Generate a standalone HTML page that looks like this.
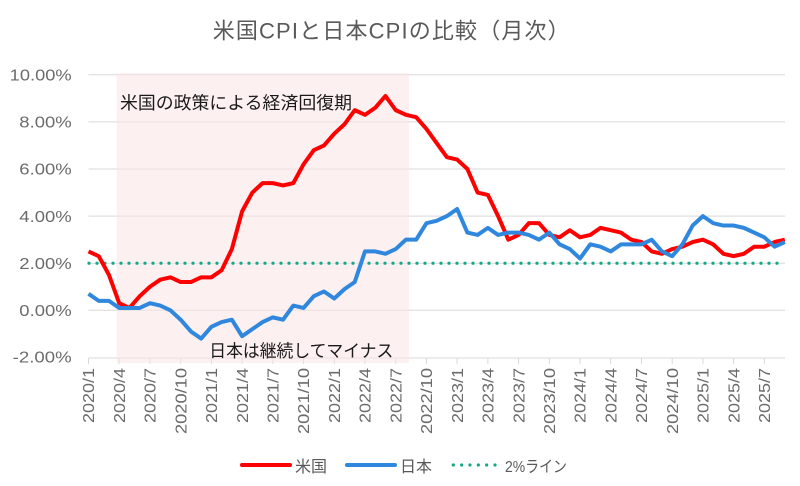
<!DOCTYPE html>
<html><head><meta charset="utf-8"><style>
html,body{margin:0;padding:0;background:#fff;}
svg{display:block;}
</style></head><body>
<svg width="800" height="486" viewBox="0 0 800 486" xmlns="http://www.w3.org/2000/svg">
<rect width="800" height="486" fill="#fff"/>
<!-- title -->
<text x="212.7" y="38.5" font-family="Liberation Sans, Noto Sans CJK JP, sans-serif" font-size="22" fill="#595959" textLength="357" lengthAdjust="spacing">米国CPIと日本CPIの比較（月次）</text>
<!-- gridlines -->
<g stroke="#d9d9d9" stroke-width="1">
<line x1="88.5" y1="74.8" x2="785" y2="74.8"/>
<line x1="88.5" y1="121.9" x2="785" y2="121.9"/>
<line x1="88.5" y1="169.0" x2="785" y2="169.0"/>
<line x1="88.5" y1="216.1" x2="785" y2="216.1"/>
<line x1="88.5" y1="263.2" x2="785" y2="263.2"/>
<line x1="88.5" y1="310.3" x2="785" y2="310.3"/>
<line x1="88.5" y1="358" x2="785" y2="358"/>
</g>
<!-- ticks -->
<g stroke="#d9d9d9" stroke-width="1">
<line x1="88.5" y1="358" x2="88.5" y2="364"/>
<line x1="119.2" y1="358" x2="119.2" y2="364"/>
<line x1="149.9" y1="358" x2="149.9" y2="364"/>
<line x1="180.7" y1="358" x2="180.7" y2="364"/>
<line x1="211.4" y1="358" x2="211.4" y2="364"/>
<line x1="242.1" y1="358" x2="242.1" y2="364"/>
<line x1="272.8" y1="358" x2="272.8" y2="364"/>
<line x1="303.5" y1="358" x2="303.5" y2="364"/>
<line x1="334.3" y1="358" x2="334.3" y2="364"/>
<line x1="365.0" y1="358" x2="365.0" y2="364"/>
<line x1="395.7" y1="358" x2="395.7" y2="364"/>
<line x1="426.4" y1="358" x2="426.4" y2="364"/>
<line x1="457.1" y1="358" x2="457.1" y2="364"/>
<line x1="487.9" y1="358" x2="487.9" y2="364"/>
<line x1="518.6" y1="358" x2="518.6" y2="364"/>
<line x1="549.3" y1="358" x2="549.3" y2="364"/>
<line x1="580.0" y1="358" x2="580.0" y2="364"/>
<line x1="610.7" y1="358" x2="610.7" y2="364"/>
<line x1="641.5" y1="358" x2="641.5" y2="364"/>
<line x1="672.2" y1="358" x2="672.2" y2="364"/>
<line x1="702.9" y1="358" x2="702.9" y2="364"/>
<line x1="733.6" y1="358" x2="733.6" y2="364"/>
<line x1="764.3" y1="358" x2="764.3" y2="364"/>
</g>
<!-- shading -->
<rect x="116.7" y="73.3" width="292.3" height="289.5" fill="#fbe3e6" fill-opacity="0.55"/>
<!-- 2% line -->
<line x1="89" y1="263.2" x2="785" y2="263.2" stroke="#13a887" stroke-width="3.2" stroke-linecap="round" stroke-dasharray="0 8"/>
<!-- series -->
<g transform="translate(88.5,310.3) scale(10.24,-23.55)" fill="none" stroke-linejoin="round">
<polyline vector-effect="non-scaling-stroke" stroke="#ff0000" stroke-width="4" points="0,2.5 1,2.3 2,1.5 3,0.3 4,0.1 5,0.6 6,1.0 7,1.3 8,1.4 9,1.2 10,1.2 11,1.4 12,1.4 13,1.7 14,2.6 15,4.2 16,5.0 17,5.4 18,5.4 19,5.3 20,5.4 21,6.2 22,6.8 23,7.0 24,7.5 25,7.9 26,8.5 27,8.3 28,8.6 29,9.1 30,8.5 31,8.3 32,8.2 33,7.7 34,7.1 35,6.5 36,6.4 37,6.0 38,5.0 39,4.9 40,4.0 41,3.0 42,3.2 43,3.7 44,3.7 45,3.2 46,3.1 47,3.4 48,3.1 49,3.2 50,3.5 51,3.4 52,3.3 53,3.0 54,2.9 55,2.5 56,2.4 57,2.6 58,2.7 59,2.9 60,3.0 61,2.8 62,2.4 63,2.3 64,2.4 65,2.7 66,2.7 67,2.9 68,3.0"/>
<polyline vector-effect="non-scaling-stroke" stroke="#2f87de" stroke-width="4" points="0,0.7 1,0.4 2,0.4 3,0.1 4,0.1 5,0.1 6,0.3 7,0.2 8,0.0 9,-0.4 10,-0.9 11,-1.2 12,-0.7 13,-0.5 14,-0.4 15,-1.1 16,-0.8 17,-0.5 18,-0.3 19,-0.4 20,0.2 21,0.1 22,0.6 23,0.8 24,0.5 25,0.9 26,1.2 27,2.5 28,2.5 29,2.4 30,2.6 31,3.0 32,3.0 33,3.7 34,3.8 35,4.0 36,4.3 37,3.3 38,3.2 39,3.5 40,3.2 41,3.3 42,3.3 43,3.2 44,3.0 45,3.3 46,2.8 47,2.6 48,2.2 49,2.8 50,2.7 51,2.5 52,2.8 53,2.8 54,2.8 55,3.0 56,2.5 57,2.3 58,2.8 59,3.6 60,4.0 61,3.7 62,3.6 63,3.6 64,3.5 65,3.3 66,3.1 67,2.7 68,2.9"/>
</g>
<!-- annotations -->
<text x="120" y="109" font-family="Liberation Sans, Noto Sans CJK JP, sans-serif" font-size="17.5" fill="#1a1a1a" textLength="232" lengthAdjust="spacingAndGlyphs">米国の政策による経済回復期</text>
<text x="209.3" y="357" font-family="Liberation Sans, Noto Sans CJK JP, sans-serif" font-size="17.5" fill="#1a1a1a" textLength="184" lengthAdjust="spacingAndGlyphs">日本は継続してマイナス</text>
<!-- y labels -->
<g font-family="Liberation Sans, sans-serif" font-size="16" fill="#6b6b6b" text-anchor="end">
<text x="71.7" y="80.5" textLength="62" lengthAdjust="spacingAndGlyphs">10.00%</text>
<text x="71.7" y="127.6" textLength="52.4" lengthAdjust="spacingAndGlyphs">8.00%</text>
<text x="71.7" y="174.7" textLength="52.4" lengthAdjust="spacingAndGlyphs">6.00%</text>
<text x="71.7" y="221.8" textLength="52.4" lengthAdjust="spacingAndGlyphs">4.00%</text>
<text x="71.7" y="268.9" textLength="52.4" lengthAdjust="spacingAndGlyphs">2.00%</text>
<text x="71.7" y="316.0" textLength="52.4" lengthAdjust="spacingAndGlyphs">0.00%</text>
<text x="71.7" y="362.4" textLength="59" lengthAdjust="spacingAndGlyphs">-2.00%</text>
</g>
<!-- x labels -->
<g font-family="Liberation Sans, sans-serif" font-size="16" fill="#6b6b6b" text-anchor="end">
<text transform="translate(94.2,368) rotate(-90)" textLength="55" lengthAdjust="spacingAndGlyphs">2020/1</text>
<text transform="translate(124.9,368) rotate(-90)" textLength="55" lengthAdjust="spacingAndGlyphs">2020/4</text>
<text transform="translate(155.6,368) rotate(-90)" textLength="55" lengthAdjust="spacingAndGlyphs">2020/7</text>
<text transform="translate(186.4,368) rotate(-90)" textLength="66" lengthAdjust="spacingAndGlyphs">2020/10</text>
<text transform="translate(217.1,368) rotate(-90)" textLength="55" lengthAdjust="spacingAndGlyphs">2021/1</text>
<text transform="translate(247.8,368) rotate(-90)" textLength="55" lengthAdjust="spacingAndGlyphs">2021/4</text>
<text transform="translate(278.5,368) rotate(-90)" textLength="55" lengthAdjust="spacingAndGlyphs">2021/7</text>
<text transform="translate(309.2,368) rotate(-90)" textLength="66" lengthAdjust="spacingAndGlyphs">2021/10</text>
<text transform="translate(340.0,368) rotate(-90)" textLength="55" lengthAdjust="spacingAndGlyphs">2022/1</text>
<text transform="translate(370.7,368) rotate(-90)" textLength="55" lengthAdjust="spacingAndGlyphs">2022/4</text>
<text transform="translate(401.4,368) rotate(-90)" textLength="55" lengthAdjust="spacingAndGlyphs">2022/7</text>
<text transform="translate(432.1,368) rotate(-90)" textLength="66" lengthAdjust="spacingAndGlyphs">2022/10</text>
<text transform="translate(462.8,368) rotate(-90)" textLength="55" lengthAdjust="spacingAndGlyphs">2023/1</text>
<text transform="translate(493.6,368) rotate(-90)" textLength="55" lengthAdjust="spacingAndGlyphs">2023/4</text>
<text transform="translate(524.3,368) rotate(-90)" textLength="55" lengthAdjust="spacingAndGlyphs">2023/7</text>
<text transform="translate(555.0,368) rotate(-90)" textLength="66" lengthAdjust="spacingAndGlyphs">2023/10</text>
<text transform="translate(585.7,368) rotate(-90)" textLength="55" lengthAdjust="spacingAndGlyphs">2024/1</text>
<text transform="translate(616.4,368) rotate(-90)" textLength="55" lengthAdjust="spacingAndGlyphs">2024/4</text>
<text transform="translate(647.2,368) rotate(-90)" textLength="55" lengthAdjust="spacingAndGlyphs">2024/7</text>
<text transform="translate(677.9,368) rotate(-90)" textLength="66" lengthAdjust="spacingAndGlyphs">2024/10</text>
<text transform="translate(708.6,368) rotate(-90)" textLength="55" lengthAdjust="spacingAndGlyphs">2025/1</text>
<text transform="translate(739.3,368) rotate(-90)" textLength="55" lengthAdjust="spacingAndGlyphs">2025/4</text>
<text transform="translate(770.0,368) rotate(-90)" textLength="55" lengthAdjust="spacingAndGlyphs">2025/7</text>
</g>
<!-- legend -->
<line x1="242" y1="465" x2="290" y2="465" stroke="#ff0000" stroke-width="4" stroke-linecap="round"/>
<text x="295" y="472" font-family="Liberation Sans, Noto Sans CJK JP, sans-serif" font-size="16" fill="#595959">米国</text>
<line x1="347" y1="465" x2="395" y2="465" stroke="#2f87de" stroke-width="4" stroke-linecap="round"/>
<text x="400" y="472" font-family="Liberation Sans, Noto Sans CJK JP, sans-serif" font-size="16" fill="#595959">日本</text>
<line x1="453.3" y1="465" x2="496" y2="465" stroke="#13a887" stroke-width="3.2" stroke-linecap="round" stroke-dasharray="0 8.34"/>
<text x="505" y="472" font-family="Liberation Sans, Noto Sans CJK JP, sans-serif" font-size="16" fill="#595959" textLength="62" lengthAdjust="spacingAndGlyphs">2%ライン</text>
</svg>
</body></html>
